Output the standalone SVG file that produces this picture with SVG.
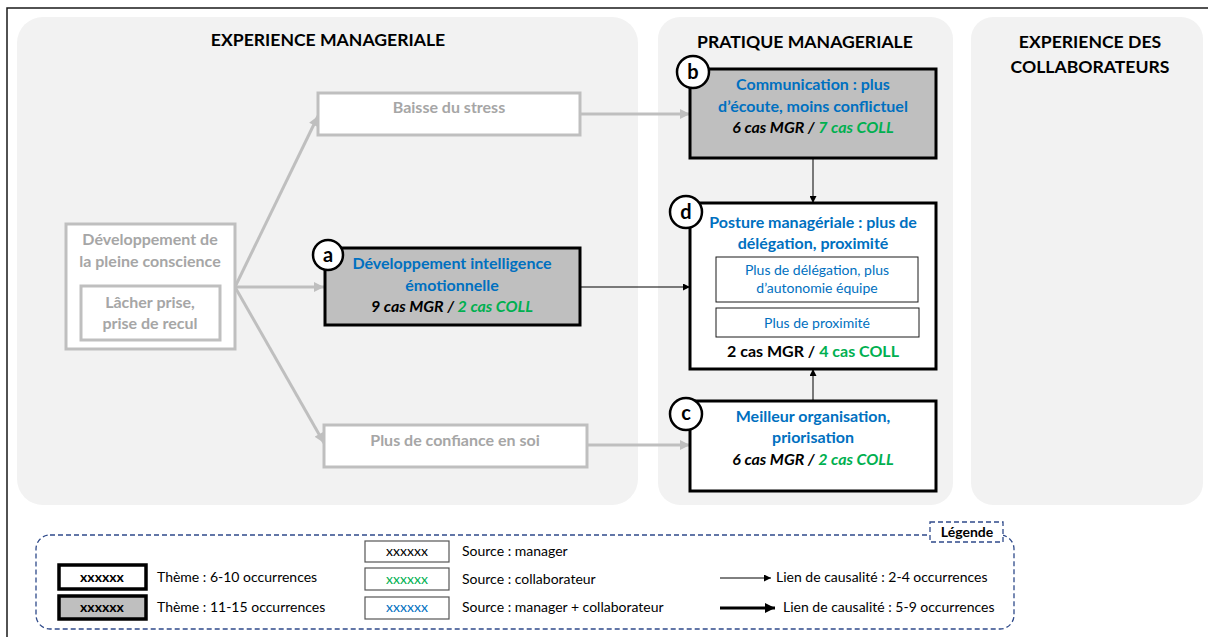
<svg xmlns="http://www.w3.org/2000/svg" width="1208" height="637" viewBox="0 0 1208 637">
  <defs>
    <style>
      .frame{fill:none;stroke:#1a1a1a;stroke-width:1.5}
      .panel{fill:#f2f2f2}
      .ttl{font-family:Lato,"Liberation Sans",sans-serif;font-weight:700;font-size:17.6px;fill:#000;text-anchor:middle}
      .t{font-family:Lato,"Liberation Sans",sans-serif;font-size:16px;font-weight:700;text-anchor:middle;fill:#000}
      .s{font-family:Lato,"Liberation Sans",sans-serif;font-size:14px;text-anchor:middle;fill:#0070c0}
      .lg{font-family:Lato,"Liberation Sans",sans-serif;font-size:14px;fill:#000}
      .blue{fill:#0070c0}
      .green{fill:#00b050}
      .grey{fill:#a6a6a6}
      .it{font-style:italic}
      .box{fill:#fff;stroke:#000;stroke-width:3}
      .boxg{fill:#bfbfbf;stroke:#000;stroke-width:3}
      .gbox{fill:#fff;stroke:#bfbfbf;stroke-width:3}
      .sub{fill:#fff;stroke:#1a1a1a;stroke-width:1}
      .badge circle{fill:#fff;stroke:#000;stroke-width:2.5}
      .badge text{font-family:Lato,"Liberation Sans",sans-serif;font-size:20px;font-weight:700;text-anchor:middle;fill:#000}
      .glink{stroke:#bfbfbf;stroke-width:3;fill:none}
      .blink{stroke:#000;stroke-width:1;fill:none}
      .dash{fill:none;stroke:#2f4a8a;stroke-width:1.3;stroke-dasharray:5 3}
    </style>
    <marker id="ag" markerUnits="userSpaceOnUse" viewBox="0 0 10 10" refX="10" refY="5" markerWidth="11" markerHeight="10" orient="auto">
      <path d="M0,0 L10,5 L0,10 z" fill="#bfbfbf"/>
    </marker>
    <marker id="ab" markerUnits="userSpaceOnUse" viewBox="0 0 10 10" refX="10" refY="5" markerWidth="7" markerHeight="7" orient="auto">
      <path d="M0,0 L10,5 L0,10 z" fill="#000"/>
    </marker>
    <marker id="abk" markerUnits="userSpaceOnUse" viewBox="0 0 10 10" refX="10" refY="5" markerWidth="12" markerHeight="10" orient="auto">
      <path d="M0,0 L10,5 L0,10 z" fill="#000"/>
    </marker>
  </defs>

  <rect x="0" y="0" width="1208" height="637" fill="#fff"/>
  <path class="frame" d="M7,637 V8 H1208"/>

  <!-- column panels -->
  <g id="panel-experience-manageriale">
    <rect class="panel" x="17" y="17" width="621" height="488" rx="26"/>
    <text class="ttl" x="328" y="46">EXPERIENCE MANAGERIALE</text>
  </g>
  <g id="panel-pratique-manageriale">
    <rect class="panel" x="658" y="17" width="295" height="488" rx="22"/>
    <text class="ttl" x="805" y="48">PRATIQUE MANAGERIALE</text>
  </g>
  <g id="panel-experience-collaborateurs">
    <rect class="panel" x="971" y="17" width="232" height="488" rx="22"/>
    <text class="ttl" x="1090" y="48">EXPERIENCE DES</text>
    <text class="ttl" x="1090" y="73">COLLABORATEURS</text>
  </g>

  <!-- connectors -->
  <g id="connectors">
    <line class="glink" x1="235" y1="287" x2="318" y2="116" marker-end="url(#ag)"/>
    <line class="glink" x1="235" y1="287" x2="324" y2="287" marker-end="url(#ag)"/>
    <line class="glink" x1="235" y1="287" x2="324" y2="443" marker-end="url(#ag)"/>
    <line class="glink" x1="580" y1="114" x2="690" y2="114" marker-end="url(#ag)"/>
    <line class="glink" x1="587" y1="445" x2="690" y2="445" marker-end="url(#ag)"/>
    <line class="blink" x1="580" y1="287" x2="690" y2="287" marker-end="url(#ab)"/>
    <line class="blink" x1="813" y1="158" x2="813" y2="203" marker-end="url(#ab)"/>
    <line class="blink" x1="813" y1="401" x2="813" y2="369" marker-end="url(#ab)"/>
  </g>

  <!-- nodes -->
  <g id="node-pleine-conscience">
    <rect class="gbox" x="66" y="224" width="169" height="125"/>
    <text class="t grey" x="150" y="245">Développement de</text>
    <text class="t grey" x="150" y="267">la pleine conscience</text>
    <rect class="gbox" x="81" y="286" width="139" height="54"/>
    <text class="t grey" x="150" y="308">Lâcher prise,</text>
    <text class="t grey" x="150" y="329">prise de recul</text>
  </g>

  <g id="node-baisse-stress">
    <rect class="gbox" x="318" y="93" width="262" height="42"/>
    <text class="t grey" x="449" y="113">Baisse du stress</text>
  </g>

  <g id="node-a">
    <rect class="boxg" x="325" y="248" width="255" height="77"/>
    <text class="t blue" x="452" y="269">Développement intelligence</text>
    <text class="t blue" x="452" y="291">émotionnelle</text>
    <text class="t it" x="452" y="312">9 cas MGR / <tspan class="green">2 cas COLL</tspan></text>
    <g class="badge"><circle cx="328" cy="255" r="15"/><text x="328" y="262">a</text></g>
  </g>

  <g id="node-confiance">
    <rect class="gbox" x="324" y="425" width="263" height="42"/>
    <text class="t grey" x="455" y="446">Plus de confiance en soi</text>
  </g>

  <g id="node-b">
    <rect class="boxg" x="690" y="69" width="246" height="89"/>
    <text class="t blue" x="813" y="90">Communication : plus</text>
    <text class="t blue" x="813" y="112">d’écoute, moins conflictuel</text>
    <text class="t it" x="813" y="133">6 cas MGR / <tspan class="green">7 cas COLL</tspan></text>
    <g class="badge"><circle cx="693" cy="72" r="16"/><text x="693" y="79">b</text></g>
  </g>

  <g id="node-d">
    <rect class="box" x="690" y="203" width="246" height="166"/>
    <text class="t blue" x="813" y="228">Posture managériale : plus de</text>
    <text class="t blue" x="813" y="249">délégation, proximité</text>
    <rect class="sub" x="716" y="257" width="202" height="45"/>
    <text class="s" x="817" y="275">Plus de délégation, plus</text>
    <text class="s" x="817" y="293">d’autonomie équipe</text>
    <rect class="sub" x="716" y="308" width="203" height="29"/>
    <text class="s" x="817" y="328">Plus de proximité</text>
    <text class="t" x="813" y="357">2 cas MGR / <tspan class="green">4 cas COLL</tspan></text>
    <g class="badge"><circle cx="686" cy="212" r="16"/><text x="686" y="219">d</text></g>
  </g>

  <g id="node-c">
    <rect class="box" x="690" y="401" width="246" height="90"/>
    <text class="t blue" x="813" y="422">Meilleur organisation,</text>
    <text class="t blue" x="813" y="443">priorisation</text>
    <text class="t it" x="813" y="465">6 cas MGR / <tspan class="green">2 cas COLL</tspan></text>
    <g class="badge"><circle cx="686" cy="414" r="16"/><text x="686" y="420">c</text></g>
  </g>

  <!-- legend -->
  <g id="legend">
    <rect class="dash" x="36" y="535" width="978" height="94" rx="14"/>
    <rect class="dash" x="930" y="522" width="73" height="20" style="fill:#fff"/>
    <text class="lg" x="967" y="537" text-anchor="middle" font-weight="700">Légende</text>

    <rect x="59" y="565" width="87" height="24" fill="#fff" stroke="#000" stroke-width="3.5"/>
    <text class="lg" x="102" y="582" text-anchor="middle" font-weight="700">xxxxxx</text>
    <text class="lg" x="157" y="582">Thème : 6-10 occurrences</text>
    <rect x="59" y="596" width="87" height="23" fill="#bfbfbf" stroke="#000" stroke-width="3.5"/>
    <text class="lg" x="102" y="612" text-anchor="middle" font-weight="700">xxxxxx</text>
    <text class="lg" x="157" y="612">Thème : 11-15 occurrences</text>

    <rect x="365" y="541" width="84" height="21" fill="#fff" stroke="#555" stroke-width="1.2"/>
    <text class="lg" x="407" y="556" text-anchor="middle">xxxxxx</text>
    <text class="lg" x="462" y="556">Source : manager</text>
    <rect x="365" y="568" width="84" height="22" fill="#fff" stroke="#555" stroke-width="1.2"/>
    <text class="lg green" x="407" y="584" text-anchor="middle">xxxxxx</text>
    <text class="lg" x="462" y="584">Source : collaborateur</text>
    <rect x="365" y="597" width="84" height="22" fill="#fff" stroke="#555" stroke-width="1.2"/>
    <text class="lg blue" x="407" y="612" text-anchor="middle">xxxxxx</text>
    <text class="lg" x="462" y="612">Source : manager + collaborateur</text>

    <line x1="720" y1="578" x2="771" y2="578" stroke="#000" stroke-width="1" marker-end="url(#ab)"/>
    <text class="lg" x="776" y="582">Lien de causalité : 2-4 occurrences</text>
    <line x1="720" y1="608" x2="775" y2="608" stroke="#000" stroke-width="3" marker-end="url(#abk)"/>
    <text class="lg" x="783" y="612">Lien de causalité : 5-9 occurrences</text>
  </g>
</svg>
